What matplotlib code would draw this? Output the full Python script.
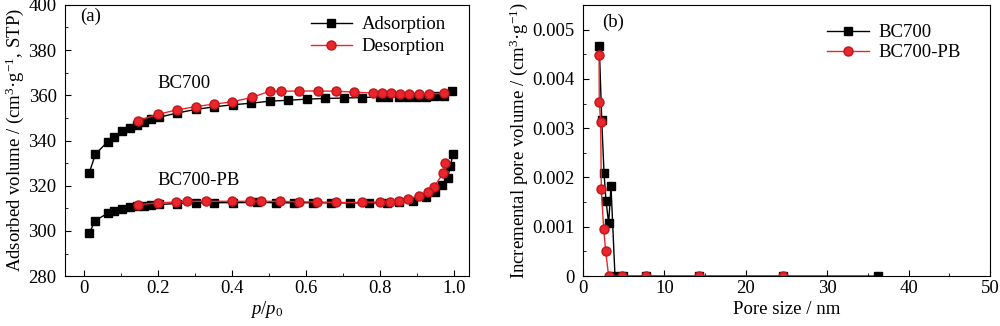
import numpy as np
import matplotlib
matplotlib.use("Agg")
import matplotlib.pyplot as plt
from matplotlib.ticker import MultipleLocator

plt.rcParams['font.family'] = ['Liberation Serif', 'DejaVu Serif']
plt.rcParams['mathtext.fontset'] = 'custom'
plt.rcParams['mathtext.rm'] = 'Liberation Serif'
plt.rcParams['mathtext.it'] = 'Liberation Serif:italic'
plt.rcParams['font.size'] = 13.5

# (a) isotherms
p_ads_bc = [0.015, 0.032, 0.065, 0.083, 0.103, 0.125, 0.144, 0.163, 0.183, 0.204,
            0.251, 0.304, 0.353, 0.402, 0.452, 0.502, 0.552, 0.602, 0.652, 0.702,
            0.752, 0.80, 0.821, 0.851, 0.875, 0.899, 0.924, 0.948, 0.973, 0.994]
v_ads_bc = [325.5, 333.9, 339.5, 341.7, 344.0, 345.7, 346.9, 348.2, 349.6, 350.3,
            352.1, 353.8, 354.9, 355.8, 356.5, 357.4, 357.8, 358.3, 358.6, 358.8,
            359.0, 359.3, 359.3, 359.3, 359.3, 359.3, 359.4, 359.6, 359.7, 362.1]
p_des_bc = [0.973, 0.931, 0.906, 0.879, 0.854, 0.830, 0.806, 0.781, 0.731, 0.682,
            0.632, 0.582, 0.532, 0.502, 0.455, 0.400, 0.352, 0.303, 0.251, 0.201, 0.147]
v_des_bc = [360.9, 360.6, 360.6, 360.6, 360.6, 360.9, 360.9, 361.0, 361.4, 361.8,
            361.9, 361.9, 361.8, 361.8, 359.1, 357.1, 356.1, 355.0, 353.5, 351.6, 348.8]

p_ads_pb = [0.015, 0.032, 0.065, 0.083, 0.103, 0.125, 0.144, 0.163, 0.183, 0.204,
            0.251, 0.304, 0.353, 0.402, 0.467, 0.518, 0.568, 0.618, 0.668, 0.719,
            0.769, 0.82, 0.85, 0.888, 0.925, 0.948, 0.968, 0.982, 0.99, 0.996]
v_ads_pb = [299.0, 304.6, 307.8, 308.8, 309.7, 310.5, 310.9, 311.2, 311.5, 311.7,
            312.1, 312.4, 312.5, 312.5, 312.6, 312.5, 312.4, 312.5, 312.4, 312.4,
            312.3, 312.5, 312.8, 313.4, 315.0, 317.0, 320.5, 323.5, 328.5, 334.0]
p_des_pb = [0.975, 0.97, 0.945, 0.93, 0.905, 0.875, 0.852, 0.826, 0.80, 0.75,
            0.68, 0.63, 0.58, 0.53, 0.48, 0.45, 0.40, 0.33, 0.28, 0.25, 0.20, 0.147]
v_des_pb = [329.9, 325.5, 319.3, 317.1, 315.3, 314.2, 313.3, 313.0, 312.8, 312.6,
            312.6, 312.8, 312.9, 313.1, 313.1, 313.1, 313.1, 313.1, 313.1, 312.8, 312.4, 311.6]

# (b) pore size distribution
d_bc = [2.0, 2.3, 2.58, 2.83, 3.15, 3.44, 3.93, 4.9, 7.8, 14.3, 24.6, 36.2]
dv_bc = [0.00467, 0.00317, 0.0021, 0.00152, 0.00107, 0.00182, 0.0, 0.0, 0.0, 0.0, 0.0, 0.0]
d_pb = [1.97, 2.0, 2.17, 2.25, 2.54, 2.79, 3.15, 4.83, 7.7, 14.2, 24.6]
dv_pb = [0.00448, 0.00354, 0.00312, 0.00176, 0.00096, 0.0005, 0.0, 0.0, 0.0, 0.0, 0.0]

red = '#e8262b'
fig = plt.figure(figsize=(10, 3.26), dpi=100)
ax1 = fig.add_axes([0.065, 0.153, 0.404, 0.832])
ax2 = fig.add_axes([0.583, 0.153, 0.407, 0.832])

ax1.plot(p_ads_bc, v_ads_bc, 's-', color='black', lw=1, ms=6, label='Adsorption')
ax1.plot(p_des_bc, v_des_bc, 'o-', color=red, mec='#c0161c', lw=1, ms=6.5, label='Desorption')
ax1.plot(p_ads_pb, v_ads_pb, 's-', color='black', lw=1, ms=6)
ax1.plot(p_des_pb, v_des_pb, 'o-', color=red, mec='#c0161c', lw=1, ms=6.5)
ax1.set_xlim(-0.05, 1.04)
ax1.set_ylim(280, 400)
ax1.xaxis.set_minor_locator(MultipleLocator(0.1))
ax1.yaxis.set_major_locator(MultipleLocator(20))
ax1.yaxis.set_minor_locator(MultipleLocator(10))
ax1.set_xticks([0, 0.2, 0.4, 0.6, 0.8, 1.0])
ax1.set_xticklabels(['0', '0.2', '0.4', '0.6', '0.8', '1.0'])
ax1.set_xlabel(r'$p$/$p_0$', labelpad=1)
ax1.set_ylabel(r'Adsorbed volume / (cm$^3$·g$^{-1}$, STP)', labelpad=2)
ax1.text(-0.01, 393, '(a)')
ax1.text(0.27, 365, 'BC700', ha='center', va='center')
ax1.text(0.31, 322.5, 'BC700-PB', ha='center', va='center')
ax1.legend(loc='upper right', frameon=False, handlelength=2.2, handletextpad=0.5,
           borderaxespad=0.2, labelspacing=0.25, bbox_to_anchor=(0.97, 1.0))

ax2.plot(d_bc, dv_bc, 's-', color='black', lw=1, ms=6, label='BC700')
ax2.plot(d_pb, dv_pb, 'o-', color=red, mec='#c0161c', lw=1, ms=6.5, label='BC700-PB')
ax2.set_xlim(0, 50)
ax2.set_ylim(0, 0.0055)
ax2.xaxis.set_major_locator(MultipleLocator(10))
ax2.xaxis.set_minor_locator(MultipleLocator(5))
ax2.yaxis.set_minor_locator(MultipleLocator(0.0005))
ax2.set_yticks([0, 0.001, 0.002, 0.003, 0.004, 0.005])
ax2.set_yticklabels(['0', '0.001', '0.002', '0.003', '0.004', '0.005'])
ax2.set_xlabel('Pore size / nm', labelpad=3)
ax2.set_ylabel(r'Incremental pore volume / (cm$^3$·g$^{-1}$)', labelpad=2)
ax2.text(2.4, 0.00505, '(b)')
ax2.legend(loc='upper right', frameon=False, handlelength=2.2, handletextpad=0.5,
           borderaxespad=0.2, labelspacing=0.15, bbox_to_anchor=(0.955, 0.97))

for ax in (ax1, ax2):
    ax.tick_params(which='both', direction='in', top=False, right=False)
    ax.tick_params(which='major', length=4, pad=3)
    ax.tick_params(which='minor', length=2.5)
    ax.tick_params(axis='y', which='major', pad=6)

fig.savefig('out.png', dpi=100)
